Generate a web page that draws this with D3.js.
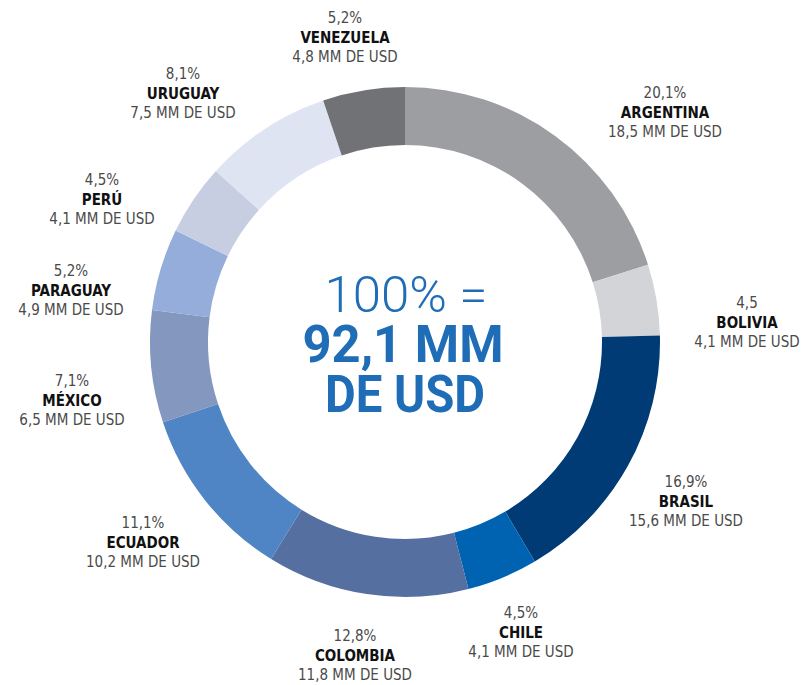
<!DOCTYPE html>
<html>
<head>
<meta charset="utf-8">
<script src="https://cdn.jsdelivr.net/npm/d3@7/dist/d3.min.js"></script>
<style>
  html, body { margin: 0; padding: 0; background: #fff; }
  svg { display: block; }
</style>
</head>
<body>
<svg id="chart" width="802" height="685"></svg>
<script>
// ---- data ----
const countries = ["ARGENTINA","BOLIVIA","BRASIL","CHILE","COLOMBIA","ECUADOR","MÉXICO","PARAGUAY","PERÚ","URUGUAY","VENEZUELA"];
const percentLabels = ["20,1%","4,5","16,9%","4,5%","12,8%","11,1%","7,1%","5,2%","4,5%","8,1%","5,2%"];
const shares = [20.1, 4.5, 16.9, 4.5, 12.8, 11.1, 7.1, 5.2, 4.5, 8.1, 5.2];
const amounts = ["18,5","4,1","15,6","4,1","11,8","10,2","6,5","4,9","4,1","7,5","4,8"];
const totalLines = ["100% =", "92,1 MM", "DE USD"];

// ---- style / layout ----
const colors = ["#9d9ea2","#d3d4d7","#003b76","#0063b1","#566fa1","#4f84c5","#8497bf","#95addb","#c7cee2","#dfe4f3","#717276"];
const labelPos = [[665,112],[747,322],[686,501],[521,632],[355,655],[143,542],[72,400],[71,290],[102,199],[183,93],[345,37]];
const cx = 405, cy = 342, rOuter = 255, rInner = 197;
const blue = "#1e6db6";

const svg = d3.select("#chart");
const g = svg.append("g").attr("transform", `translate(${cx},${cy})`);

const pie = d3.pie().sort(null).value(d => d).startAngle(0).endAngle(2 * Math.PI);
const arc = d3.arc().innerRadius(rInner).outerRadius(rOuter);

g.selectAll("path.slice")
  .data(pie(shares))
  .join("path")
  .attr("class", "slice")
  .attr("d", arc)
  .attr("fill", (d, i) => colors[i]);

// labels
const lab = svg.append("g")
  .attr("font-family", "'DejaVu Sans Condensed', 'DejaVu Sans', sans-serif")
  .attr("text-anchor", "middle");

countries.forEach((c, i) => {
  const [x, y] = labelPos[i];
  const t = lab.append("g").attr("transform", `translate(${x},${y})`);
  t.append("text").attr("y", -14).attr("font-size", 15).attr("fill", "#4a4a4a").text(percentLabels[i]);
  t.append("text").attr("y", 6).attr("font-size", 15).attr("font-weight", "bold").attr("fill", "#111").text(c);
  t.append("text").attr("y", 25).attr("font-size", 15).attr("fill", "#4a4a4a").text(amounts[i] + " MM DE USD");
});

// center text
const ct = svg.append("g").attr("text-anchor", "middle").attr("fill", blue)
  .attr("font-family", "Roboto, 'DejaVu Sans', sans-serif");
ct.append("text").attr("x", 406).attr("y", 312).attr("font-size", 50).attr("font-weight", 300)
  .attr("textLength", 163).attr("lengthAdjust", "spacingAndGlyphs").text(totalLines[0]);
ct.append("text").attr("x", 403).attr("y", 362).attr("font-size", 52).attr("font-weight", 700)
  .attr("textLength", 201).attr("lengthAdjust", "spacingAndGlyphs").text(totalLines[1]);
ct.append("text").attr("x", 405).attr("y", 412).attr("font-size", 52).attr("font-weight", 700)
  .attr("textLength", 160).attr("lengthAdjust", "spacingAndGlyphs").text(totalLines[2]);
</script>
</body>
</html>
